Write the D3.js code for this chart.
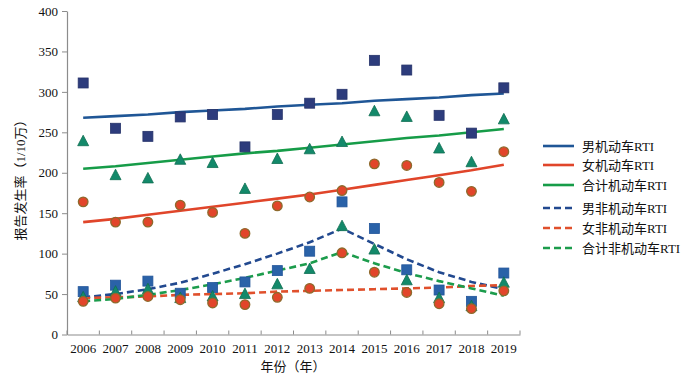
<!DOCTYPE html>
<html><head><meta charset="utf-8">
<script src="https://cdn.jsdelivr.net/npm/d3@7"></script>
<style>body{margin:0;background:#fff}svg{display:block}</style>
</head><body><svg id="c" width="700" height="378"></svg>
<script>
const years = [2006,2007,2008,2009,2010,2011,2012,2013,2014,2015,2016,2017,2018,2019];
const yTicks = [0,50,100,150,200,250,300,350,400];
// observed points
const maleMotor   = [311,255,245,269,272,232,272,286,297,339,327,271,249,305];
const totalMotor  = [239,197,193,216,212,180,217,229,238,276,269,230,213,266];
const femaleMotor = [164,139,139,160,151,125,159,170,178,211,209,188,177,226];
const maleNon     = [53,61,66,51,58,65,79,103,164,131,80,55,41,76];
const totalNon    = [46,53,56,45,47,50,62,81,134,105,67,45,35,64];
const femaleNon   = [41,45,47,43,39,37,46,57,101,77,52,38,32,54];
// fitted trend lines (read per year)
const maleMotorFit   = [268,270,272,275,277,279,282,284,286,289,291,293,296,298];
const femaleMotorFit = [139,143,148,153,158,163,168,173,179,185,191,197,203,210];
const totalMotorFit  = [205,208,212,216,220,224,227,231,235,239,243,246,250,254];
const maleNonFit     = [46,50,56,64,75,87,100,114,131,112,93,77,65,56];
const femaleNonFit   = [45,46,47,49,50,51,53,54,55,56,57,58,60,61];
const totalNonFit    = [41,44,49,55,62,70,79,88,102,88,76,66,57,48];
const legendLabels = ["男机动车RTI","女机动车RTI","合计机动车RTI","男非机动车RTI","女非机动车RTI","合计非机动车RTI"];

const svg = d3.select("#c");
const x = d3.scaleBand().domain(years).range([67,520]).padding(0);
const y = d3.scaleLinear().domain([0,400]).range([334.5,11]);
const cx = d => x(d) + x.bandwidth()/2;
const numFont = "'Liberation Serif','Times New Roman',serif";
const cjkFont = "'Liberation Serif','Noto Sans CJK SC',serif";
const axisCol = "#8c8c8c";

// Y axis
const ya = svg.append("g").attr("transform","translate(67,0)")
  .call(d3.axisLeft(y).tickValues(yTicks).tickSize(5).tickSizeOuter(0).tickPadding(4));
ya.select(".domain").attr("stroke",axisCol).attr("stroke-width",1.2);
ya.selectAll(".tick line").attr("stroke",axisCol);
ya.selectAll(".tick text").attr("font-family",numFont).attr("font-size",13).attr("fill","#111");

// X axis
const xa = svg.append("g").attr("transform","translate(0,334.5)")
  .call(d3.axisBottom(x).tickSize(0).tickSizeOuter(0).tickPadding(9));
xa.select(".domain").attr("stroke",axisCol).attr("stroke-width",1.2);
xa.selectAll(".tick text").attr("font-family",numFont).attr("font-size",13).attr("fill","#111");
const bounds = years.map(d=>x(d)).concat([x(years[years.length-1])+x.bandwidth()]);
xa.selectAll(".bt").data(bounds).enter().append("line")
  .attr("x1",d=>d).attr("x2",d=>d).attr("y1",0).attr("y2",-4)
  .attr("stroke",axisCol).attr("stroke-width",1);

// axis titles
svg.append("text").attr("transform","translate(25,177) rotate(-90)")
  .attr("text-anchor","middle").attr("font-family",cjkFont).attr("font-size",13).attr("fill","#111")
  .text("报告发生率（1/10万）");
svg.append("text").attr("x",293).attr("y",371).attr("text-anchor","middle")
  .attr("font-family",cjkFont).attr("font-size",13).attr("fill","#111").text("年份（年）");

// trend lines
const line = d3.line().x((d,i)=>cx(years[i])).y(d=>y(d));
const lines = [
  {d:maleMotorFit,c:"#1f5696",dash:null},
  {d:femaleMotorFit,c:"#e0452a",dash:null},
  {d:totalMotorFit,c:"#169c48",dash:null},
  {d:maleNonFit,c:"#22498f",dash:"7,4"},
  {d:femaleNonFit,c:"#e0502c",dash:"7,4"},
  {d:totalNonFit,c:"#1c9c4c",dash:"7,4"}
];
lines.forEach(l=>{
  svg.append("path").attr("d",line(l.d)).attr("fill","none").attr("stroke",l.c)
    .attr("stroke-width",2.6).attr("stroke-dasharray",l.dash);
});

// markers
function squares(data,fill,stroke){
  svg.append("g").selectAll("rect").data(data).enter().append("rect")
    .attr("x",(d,i)=>cx(years[i])-5).attr("y",d=>y(d)-5).attr("width",10).attr("height",10)
    .attr("fill",fill).attr("stroke",stroke).attr("stroke-width",0.8);
}
function triangles(data){
  svg.append("g").selectAll("path").data(data).enter().append("path")
    .attr("d",(d,i)=>{const X=cx(years[i]),Y=y(d);return `M${X},${Y-6}L${X+5.5},${Y+4.5}L${X-5.5},${Y+4.5}Z`;})
    .attr("fill","#13896a").attr("stroke","#0f6e52").attr("stroke-width",0.8);
}
function circles(data){
  svg.append("g").selectAll("circle").data(data).enter().append("circle")
    .attr("cx",(d,i)=>cx(years[i])).attr("cy",d=>y(d)).attr("r",4.8)
    .attr("fill","#e2452a").attr("stroke","#8e6a2c").attr("stroke-width",1.3);
}
squares(maleMotor,"#2d3c7c","#26336a");
triangles(totalMotor);
circles(femaleMotor);
squares(maleNon,"#2a62a8","#22559a");
triangles(totalNon);
circles(femaleNon);

// legend
const legY = [146,165,185,208,228,248];
const lg = svg.append("g");
lines.forEach((l,i)=>{
  lg.append("line").attr("x1",543).attr("x2",574).attr("y1",legY[i]).attr("y2",legY[i])
    .attr("stroke",l.c).attr("stroke-width",2.6).attr("stroke-dasharray",l.dash);
  lg.append("text").attr("x",582).attr("y",legY[i]+4.5).attr("font-family",cjkFont)
    .attr("font-size",13).attr("fill","#111").text(legendLabels[i]);
});
</script></body></html>
